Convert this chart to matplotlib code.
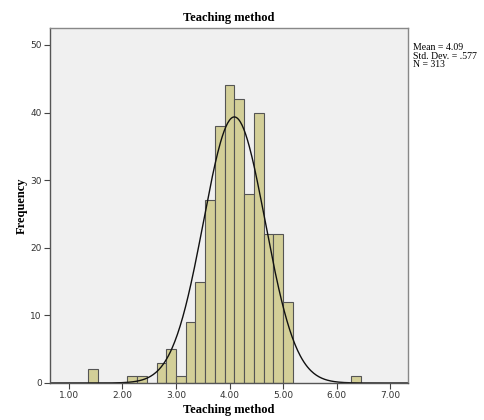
import numpy as np
import matplotlib
matplotlib.use("Agg")
import matplotlib.pyplot as plt

# histogram bins (SPSS width = 2/11), counts
bin_width = 2 / 11
bin_start = 3.0 - 9 * bin_width
counts = [2, 0, 0, 0, 1, 1, 0, 3, 5,
          1, 9, 15, 27, 38, 44, 42, 28, 40, 22, 22,
          12, 0, 0, 0, 0, 0, 0, 1]

mean = 4.09
std = 0.577
n = 313

x_ticks = [1, 2, 3, 4, 5, 6, 7]
y_ticks = [0, 10, 20, 30, 40, 50]

serif = "Liberation Serif"
tick_font = "DejaVu Sans"

fig = plt.figure(figsize=(4.84, 4.20), dpi=100)
ax = fig.add_axes([50 / 484, 1 - 383 / 420, 358 / 484, 355 / 420])
ax.set_facecolor("#f0f0f0")

lefts = bin_start + bin_width * np.arange(len(counts))
for left, c in zip(lefts, counts):
    if c > 0:
        ax.bar(left, c, width=bin_width, align="edge", color="#d3cf98",
               edgecolor="#555555", linewidth=0.8)

xs = np.linspace(0.645, 7.336, 400)
curve = n * bin_width / (std * np.sqrt(2 * np.pi)) * np.exp(-0.5 * ((xs - mean) / std) ** 2)
ax.plot(xs, curve, color="#111111", linewidth=1.0)

ax.set_xlim(0.645, 7.336)
ax.set_ylim(0, 52.5)
ax.set_xticks(x_ticks)
ax.set_xticklabels(["%.2f" % v for v in x_ticks], fontsize=6.5, family=tick_font, color="#333333")
ax.set_yticks(y_ticks)
ax.set_yticklabels([str(v) for v in y_ticks], fontsize=6.5, family=tick_font, color="#333333")
ax.tick_params(direction="out", length=4, width=0.8, color="#444444", pad=2)
for s in ax.spines.values():
    s.set_color("#888888")
    s.set_linewidth(1.0)
ax.spines["left"].set_color("#555555")
ax.spines["bottom"].set_color("#555555")

ax.set_title("Teaching method", family=serif, fontweight="bold", fontsize=9, pad=5)
ax.set_xlabel("Teaching method", family=serif, fontweight="bold", fontsize=9, labelpad=3)
ax.set_ylabel("Frequency", family=serif, fontweight="bold", fontsize=9, labelpad=2)

fig.text(413 / 484, 1 - 43 / 420, "Mean = %.2f\nStd. Dev. = .577\nN = %d" % (mean, n),
         family=serif, fontsize=7, va="top", ha="left", linespacing=0.95)

fig.savefig("out.png", dpi=100, facecolor="white")
